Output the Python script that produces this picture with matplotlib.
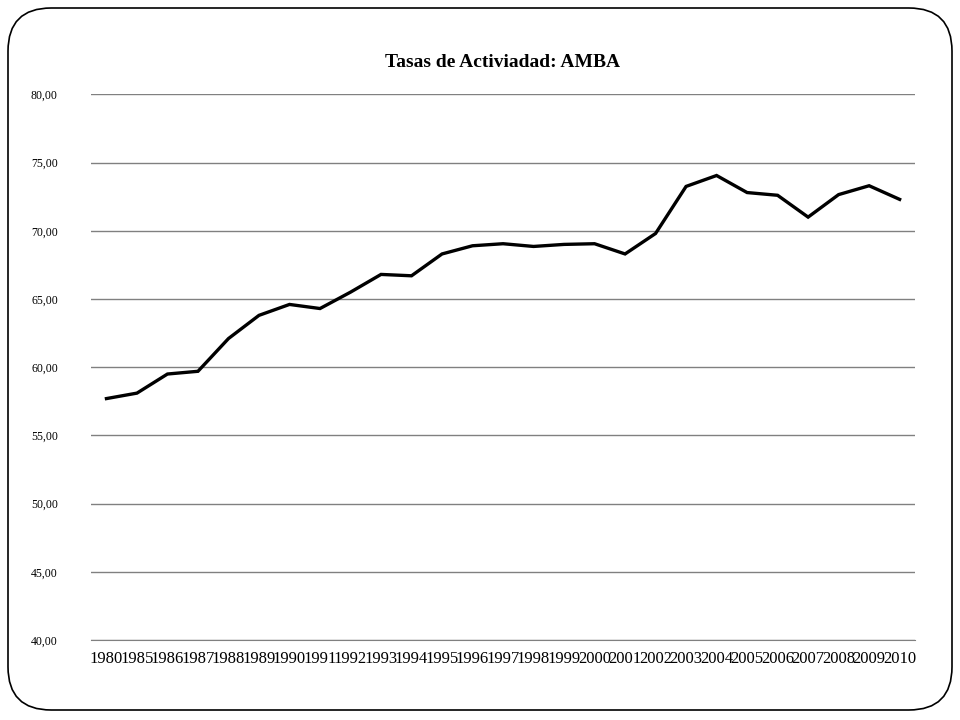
import matplotlib
matplotlib.use('Agg')
import matplotlib.pyplot as plt
from matplotlib.patches import FancyBboxPatch

years = ['1980'] + [str(y) for y in range(1985, 2011)]
tasas = [57.7, 58.1, 59.5, 59.7, 62.1, 63.8, 64.6, 64.3, 65.5, 66.8, 66.7,
         68.3, 68.9, 69.05, 68.85, 69.0, 69.05, 68.3, 69.8, 73.25, 74.05,
         72.8, 72.6, 71.0, 72.65, 73.3, 72.3]
yticks = [40, 45, 50, 55, 60, 65, 70, 75, 80]

plt.rcParams['font.family'] = ['Liberation Serif', 'DejaVu Serif']

fig = plt.figure(figsize=(9.6, 7.2), dpi=100)
# marco redondeado
box = FancyBboxPatch((8/960, 10/720), 944/960, 702/720,
                     boxstyle='round,pad=0,rounding_size=0.045',
                     transform=fig.transFigure, fill=False, edgecolor='black', lw=1.2,
                     mutation_aspect=960/720)
fig.patches.append(box)

ax = fig.add_axes([0.095, 0.111, 0.858, 0.758])
x = list(range(len(years)))
ax.plot(x, tasas, color='black', lw=2.4, solid_joinstyle='miter')
ax.set_xlim(-0.5, len(years) - 0.5)
ax.set_ylim(40, 80)
ax.set_yticks(yticks)
ax.set_yticklabels(['%d,00' % v for v in yticks], fontsize=8.5)
ax.set_xticks(x)
ax.set_xticklabels(years, fontsize=12)
ax.yaxis.grid(True, color='#808080', lw=1)
ax.set_axisbelow(True)
for s in ['top', 'right', 'left']:
    ax.spines[s].set_visible(False)
ax.spines['bottom'].set_color('#808080')
ax.tick_params(axis='both', length=0)
ax.tick_params(axis='y', pad=24)
ax.tick_params(axis='x', pad=8)
ax.set_title('Tasas de Activiadad: AMBA', fontsize=14, fontweight='bold', pad=20)

plt.savefig('out.png', dpi=100)
